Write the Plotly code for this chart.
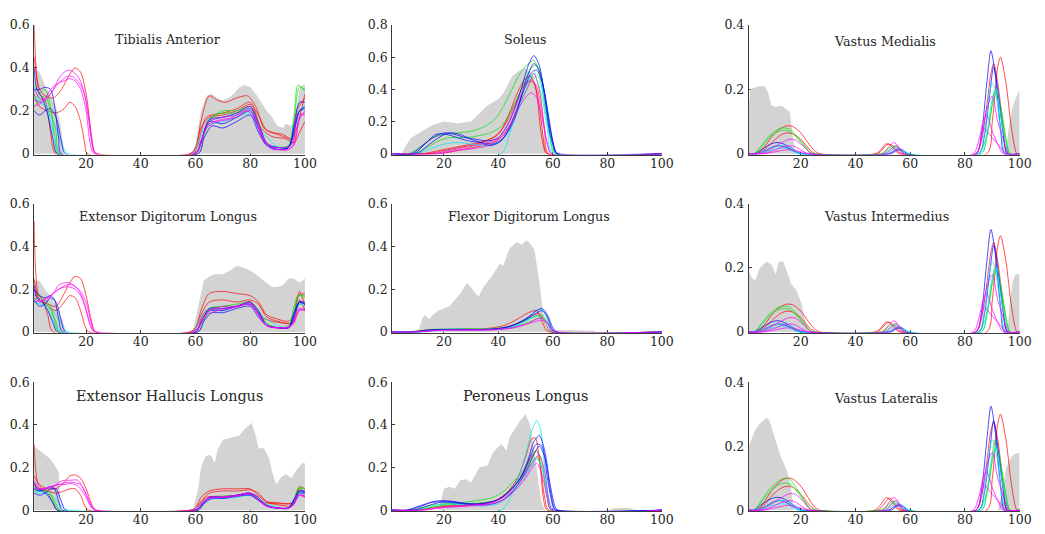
import plotly.graph_objects as go

W, H = 1045, 534

COLORS = {
    "r": "rgba(255,0,0,0.7)",
    "g": "rgba(0,230,0,0.7)",
    "b": "rgba(0,0,255,0.7)",
    "c": "rgba(0,235,235,0.75)",
    "m": "rgba(255,0,255,0.7)",
}
ENV_COLOR = "rgb(211,211,211)"

X_TICKS = [20, 40, 60, 80, 100]

# ---------------- Tibialis Anterior ----------------
TA_ENV_X = [1, 3, 5, 7, 9, 10.5, 11.5, 12, 59, 60, 62, 64, 66, 68, 70, 72, 74, 76, 78, 80, 82, 84, 86, 88, 90, 92, 93, 95, 96, 97, 98, 99, 100]
TA_ENV_Y = [0.4, 0.38, 0.32, 0.27, 0.22, 0.15, 0.06, 0, 0, 0.05, 0.2, 0.27, 0.28, 0.26, 0.25, 0.26, 0.28, 0.31, 0.32, 0.31, 0.28, 0.24, 0.2, 0.17, 0.13, 0.12, 0.14, 0.13, 0.15, 0.22, 0.3, 0.32, 0.32]
TA_LINES = [
    ("r", [1, 2, 3, 5, 7, 8, 9, 58, 60, 62, 65, 68, 71, 75, 79, 82, 85, 88, 92, 95, 97, 100],
          [0.6, 0.35, 0.28, 0.25, 0.1, 0.02, 0, 0, 0.02, 0.15, 0.27, 0.25, 0.24, 0.26, 0.27, 0.22, 0.12, 0.1, 0.09, 0.07, 0.12, 0.28]),
    ("r", [1, 3, 5, 8, 11, 14, 16, 18, 20, 22, 23, 24, 58, 60, 62, 65, 70, 75, 80, 83, 86, 90, 94, 96, 98, 100],
          [0.45, 0.3, 0.27, 0.26, 0.3, 0.37, 0.40, 0.38, 0.28, 0.08, 0.01, 0, 0, 0.03, 0.12, 0.17, 0.18, 0.2, 0.23, 0.18, 0.11, 0.09, 0.07, 0.05, 0.1, 0.15]),
    ("r", [1, 3, 6, 9, 12, 14, 16, 18, 19.5, 20.5, 59, 61, 64, 70, 75, 80, 84, 88, 93, 95.5, 97, 100],
          [0.28, 0.22, 0.2, 0.19, 0.21, 0.24, 0.22, 0.15, 0.05, 0, 0, 0.05, 0.17, 0.19, 0.21, 0.24, 0.12, 0.08, 0.07, 0.05, 0.2, 0.26]),
    ("g", [1, 3, 5, 7, 8.5, 10, 60, 62, 65, 70, 75, 80, 83, 86, 90, 94, 96, 98, 100],
          [0.25, 0.28, 0.3, 0.22, 0.08, 0, 0, 0.06, 0.16, 0.2, 0.2, 0.22, 0.15, 0.05, 0.03, 0.03, 0.15, 0.31, 0.3]),
    ("g", [1, 3, 5, 7, 9, 10.5, 61, 63, 66, 70, 75, 80, 83, 86, 90, 94, 96, 97.5, 100],
          [0.22, 0.25, 0.27, 0.2, 0.1, 0, 0, 0.08, 0.17, 0.19, 0.19, 0.21, 0.13, 0.05, 0.03, 0.04, 0.18, 0.32, 0.29]),
    ("c", [1, 3, 6, 9, 11, 12.5, 13.5, 59, 61, 64, 70, 75, 80, 83, 86, 90, 94, 96, 98, 100],
          [0.32, 0.25, 0.2, 0.12, 0.05, 0.01, 0, 0, 0.06, 0.13, 0.15, 0.17, 0.19, 0.12, 0.08, 0.03, 0.03, 0.1, 0.2, 0.23]),
    ("c", [1, 3, 5, 7, 9, 10.5, 60, 62, 65, 70, 75, 80, 83, 86, 90, 94, 96, 98, 100],
          [0.27, 0.24, 0.24, 0.15, 0.05, 0, 0, 0.05, 0.15, 0.17, 0.18, 0.21, 0.13, 0.05, 0.03, 0.03, 0.12, 0.2, 0.21]),
    ("b", [1, 3, 5, 7, 8.5, 10, 11, 60, 62, 65, 70, 75, 80, 83, 86, 90, 94, 96, 98, 100],
          [0.3, 0.3, 0.31, 0.3, 0.22, 0.07, 0, 0, 0.06, 0.15, 0.14, 0.17, 0.2, 0.12, 0.04, 0.02, 0.03, 0.1, 0.2, 0.22]),
    ("b", [1, 3, 5, 7, 9, 11, 12.5, 61, 63, 66, 70, 75, 80, 83, 86, 90, 94, 96, 98, 100],
          [0.2, 0.18, 0.2, 0.21, 0.17, 0.06, 0, 0, 0.07, 0.13, 0.12, 0.15, 0.18, 0.1, 0.04, 0.03, 0.03, 0.12, 0.2, 0.21]),
    ("b", [1, 2, 4, 6, 8, 9.5, 60, 62, 65, 70, 75, 80, 83, 86, 90, 94, 96, 98, 100],
          [0.4, 0.3, 0.26, 0.18, 0.06, 0, 0, 0.05, 0.16, 0.17, 0.19, 0.22, 0.14, 0.05, 0.02, 0.03, 0.13, 0.24, 0.24]),
    ("m", [1, 3, 5, 8, 10, 12, 14, 17, 19, 21, 22.5, 24, 59, 61, 64, 68, 72, 76, 80, 82, 85, 88, 91, 94, 96, 98, 100],
          [0.3, 0.26, 0.25, 0.3, 0.35, 0.38, 0.39, 0.36, 0.3, 0.15, 0.03, 0, 0, 0.02, 0.12, 0.15, 0.16, 0.19, 0.22, 0.16, 0.06, 0.02, 0.02, 0.02, 0.05, 0.17, 0.19]),
    ("m", [1, 3, 5, 7, 10, 13, 15, 18, 20, 22, 23.5, 60, 62, 65, 70, 75, 80, 83, 86, 90, 94, 96, 98, 100],
          [0.25, 0.24, 0.26, 0.3, 0.33, 0.36, 0.36, 0.32, 0.25, 0.08, 0, 0, 0.06, 0.14, 0.16, 0.17, 0.21, 0.14, 0.05, 0.02, 0.02, 0.04, 0.16, 0.2]),
    ("m", [1, 4, 7, 10, 12, 14, 16, 18, 20, 21.5, 23, 60, 62, 65, 70, 75, 79, 82, 85, 89, 93, 95.5, 97, 100],
          [0.22, 0.24, 0.28, 0.33, 0.34, 0.35, 0.34, 0.3, 0.2, 0.05, 0, 0, 0.05, 0.15, 0.17, 0.18, 0.2, 0.15, 0.06, 0.03, 0.03, 0.05, 0.18, 0.18]),
]

# ---------------- Extensor Digitorum Longus ----------------
EDL_ENV_X = [1, 3, 5, 8, 10, 11.5, 12.5, 59, 61, 63, 65, 67, 70, 73, 75, 78, 81, 84, 86, 88, 90, 92, 94, 96, 98, 100]
EDL_ENV_Y = [0.24, 0.24, 0.2, 0.15, 0.1, 0.05, 0, 0, 0.12, 0.24, 0.26, 0.27, 0.27, 0.29, 0.31, 0.3, 0.28, 0.25, 0.23, 0.21, 0.21, 0.22, 0.25, 0.25, 0.23, 0.25]
EDL_LINES = [
    ("r", [1, 1.5, 2.5, 4, 6, 8, 58, 60, 62, 65, 70, 75, 80, 83, 86, 90, 94, 96, 98, 100],
          [0.52, 0.3, 0.18, 0.15, 0.08, 0, 0, 0.02, 0.1, 0.18, 0.19, 0.18, 0.17, 0.14, 0.08, 0.06, 0.05, 0.08, 0.19, 0.12]),
    ("r", [1, 3, 6, 9, 12, 14, 16, 18, 20, 22, 23.5, 58, 60, 62, 65, 70, 75, 80, 83, 86, 90, 94, 96, 98, 100],
          [0.25, 0.15, 0.13, 0.12, 0.18, 0.23, 0.26, 0.25, 0.17, 0.05, 0, 0, 0.02, 0.08, 0.14, 0.15, 0.14, 0.15, 0.13, 0.07, 0.05, 0.04, 0.05, 0.15, 0.1]),
    ("r", [1, 3, 6, 9, 12, 14, 16, 18, 19.5, 21, 59, 61, 64, 70, 75, 80, 84, 88, 93, 95.5, 97.5, 100],
          [0.2, 0.15, 0.12, 0.1, 0.14, 0.17, 0.16, 0.1, 0.03, 0, 0, 0.04, 0.1, 0.11, 0.12, 0.14, 0.07, 0.05, 0.04, 0.04, 0.17, 0.18]),
    ("g", [1, 3, 5, 7, 8.5, 10, 60, 62, 65, 70, 75, 80, 83, 86, 90, 94, 96, 98, 100],
          [0.17, 0.17, 0.15, 0.12, 0.05, 0, 0, 0.05, 0.11, 0.12, 0.13, 0.14, 0.1, 0.04, 0.02, 0.02, 0.1, 0.17, 0.16]),
    ("g", [1, 3, 5, 7, 9, 10.5, 61, 63, 66, 70, 75, 80, 83, 86, 90, 94, 96, 97.5, 100],
          [0.15, 0.16, 0.14, 0.1, 0.05, 0, 0, 0.05, 0.11, 0.12, 0.12, 0.13, 0.09, 0.04, 0.02, 0.03, 0.12, 0.17, 0.17]),
    ("c", [1, 3, 6, 9, 11, 12.5, 13.5, 59, 61, 64, 70, 75, 80, 83, 86, 90, 94, 96, 98, 100],
          [0.16, 0.14, 0.12, 0.08, 0.04, 0.01, 0, 0, 0.05, 0.1, 0.1, 0.12, 0.13, 0.09, 0.06, 0.03, 0.02, 0.07, 0.13, 0.14]),
    ("c", [1, 3, 5, 7, 9, 10.5, 60, 62, 65, 70, 75, 80, 83, 86, 90, 94, 96, 98, 100],
          [0.14, 0.13, 0.12, 0.08, 0.03, 0, 0, 0.04, 0.1, 0.11, 0.12, 0.13, 0.09, 0.03, 0.02, 0.02, 0.08, 0.13, 0.12]),
    ("b", [1, 3, 5, 7, 8.5, 10, 11.5, 60, 62, 65, 70, 75, 80, 83, 86, 90, 94, 96, 98, 100],
          [0.2, 0.17, 0.16, 0.17, 0.15, 0.06, 0, 0, 0.05, 0.1, 0.1, 0.12, 0.13, 0.09, 0.03, 0.02, 0.02, 0.07, 0.14, 0.13]),
    ("b", [1, 3, 5, 7, 9, 11, 12.5, 61, 63, 66, 70, 75, 80, 83, 86, 90, 94, 96, 98, 100],
          [0.15, 0.12, 0.13, 0.16, 0.14, 0.05, 0, 0, 0.05, 0.09, 0.09, 0.11, 0.12, 0.07, 0.03, 0.02, 0.02, 0.08, 0.14, 0.13]),
    ("b", [1, 2, 4, 6, 8, 9.5, 60, 62, 65, 70, 75, 80, 83, 86, 90, 94, 96, 98, 100],
          [0.22, 0.16, 0.14, 0.1, 0.04, 0, 0, 0.04, 0.11, 0.11, 0.12, 0.14, 0.1, 0.03, 0.02, 0.02, 0.09, 0.14, 0.14]),
    ("m", [1, 3, 5, 8, 10, 12, 14, 17, 19, 21, 22.5, 24, 59, 61, 64, 68, 72, 76, 80, 82, 85, 88, 91, 94, 96, 98, 100],
          [0.18, 0.15, 0.14, 0.18, 0.22, 0.23, 0.23, 0.2, 0.15, 0.06, 0.01, 0, 0, 0.02, 0.08, 0.1, 0.11, 0.12, 0.14, 0.1, 0.04, 0.02, 0.02, 0.02, 0.05, 0.1, 0.11]),
    ("m", [1, 3, 5, 7, 10, 13, 15, 18, 20, 22, 23.5, 60, 62, 65, 70, 75, 80, 83, 86, 90, 94, 96, 98, 100],
          [0.16, 0.14, 0.15, 0.17, 0.2, 0.22, 0.22, 0.19, 0.14, 0.04, 0, 0, 0.05, 0.1, 0.11, 0.12, 0.13, 0.09, 0.03, 0.02, 0.02, 0.04, 0.11, 0.1]),
    ("m", [1, 4, 7, 10, 12, 14, 16, 18, 20, 21.5, 23, 60, 62, 65, 70, 75, 79, 82, 85, 89, 93, 95.5, 97, 100],
          [0.14, 0.15, 0.17, 0.2, 0.21, 0.21, 0.2, 0.17, 0.1, 0.03, 0, 0, 0.04, 0.1, 0.12, 0.12, 0.13, 0.1, 0.04, 0.02, 0.02, 0.04, 0.1, 0.1]),
]

# ---------------- Extensor Hallucis Longus ----------------
EHL_ENV_X = [1, 3, 5, 7, 9, 10, 10.5, 11, 59, 61, 62, 63.5, 65, 66, 67, 68, 70, 73, 76, 78, 80.5, 82, 83, 85, 87, 88, 89.5, 91, 93, 95, 97, 99, 100]
EHL_ENV_Y = [0.3, 0.28, 0.26, 0.24, 0.2, 0.18, 0.05, 0, 0, 0.1, 0.2, 0.25, 0.26, 0.25, 0.22, 0.28, 0.33, 0.34, 0.35, 0.38, 0.41, 0.35, 0.29, 0.29, 0.24, 0.18, 0.12, 0.15, 0.17, 0.15, 0.19, 0.22, 0.22]
EHL_LINES = [
    ("r", [1, 1.5, 2.5, 4, 6, 8, 9.5, 58, 60, 62, 65, 70, 75, 80, 83, 86, 90, 94, 96, 98, 100],
          [0.31, 0.2, 0.12, 0.1, 0.08, 0.03, 0, 0, 0.01, 0.06, 0.09, 0.1, 0.1, 0.1, 0.07, 0.04, 0.035, 0.03, 0.04, 0.11, 0.1]),
    ("r", [1, 3, 6, 9, 12, 14, 16, 18, 20, 22, 23.5, 58, 60, 62, 65, 70, 75, 80, 83, 86, 90, 94, 96, 98, 100],
          [0.16, 0.12, 0.1, 0.1, 0.13, 0.16, 0.165, 0.15, 0.1, 0.03, 0, 0, 0.01, 0.04, 0.08, 0.09, 0.09, 0.095, 0.08, 0.04, 0.03, 0.03, 0.03, 0.1, 0.08]),
    ("r", [1, 3, 6, 9, 12, 14, 16, 18, 19.5, 21, 59, 61, 64, 70, 75, 80, 84, 88, 93, 95.5, 97.5, 100],
          [0.12, 0.1, 0.09, 0.08, 0.09, 0.1, 0.1, 0.07, 0.02, 0, 0, 0.02, 0.06, 0.065, 0.07, 0.08, 0.04, 0.03, 0.02, 0.02, 0.09, 0.06]),
    ("g", [1, 3, 5, 7, 8.5, 10, 60, 62, 65, 70, 75, 80, 83, 86, 90, 94, 96, 98, 100],
          [0.11, 0.1, 0.1, 0.08, 0.03, 0, 0, 0.02, 0.06, 0.065, 0.07, 0.08, 0.06, 0.025, 0.01, 0.01, 0.05, 0.11, 0.1]),
    ("g", [1, 3, 5, 7, 9, 10.5, 61, 63, 66, 70, 75, 80, 83, 86, 90, 94, 96, 97.5, 100],
          [0.09, 0.09, 0.09, 0.07, 0.03, 0, 0, 0.03, 0.06, 0.065, 0.065, 0.075, 0.055, 0.025, 0.01, 0.01, 0.05, 0.1, 0.1]),
    ("c", [1, 3, 6, 9, 11, 12.5, 13.5, 59, 61, 64, 70, 75, 80, 83, 86, 90, 94, 96, 98, 100],
          [0.1, 0.09, 0.08, 0.05, 0.02, 0.005, 0, 0, 0.02, 0.05, 0.055, 0.06, 0.07, 0.05, 0.03, 0.015, 0.01, 0.04, 0.08, 0.08]),
    ("c", [1, 3, 5, 7, 9, 10.5, 60, 62, 65, 70, 75, 80, 83, 86, 90, 94, 96, 98, 100],
          [0.09, 0.08, 0.08, 0.05, 0.02, 0, 0, 0.02, 0.055, 0.06, 0.065, 0.075, 0.05, 0.02, 0.01, 0.01, 0.04, 0.08, 0.075]),
    ("b", [1, 3, 5, 7, 8.5, 10, 11.5, 60, 62, 65, 70, 75, 80, 83, 86, 90, 94, 96, 98, 100],
          [0.1, 0.09, 0.1, 0.11, 0.1, 0.04, 0, 0, 0.02, 0.06, 0.06, 0.07, 0.075, 0.05, 0.02, 0.01, 0.01, 0.05, 0.09, 0.085]),
    ("b", [1, 3, 5, 7, 9, 11, 12.5, 61, 63, 66, 70, 75, 80, 83, 86, 90, 94, 96, 98, 100],
          [0.08, 0.07, 0.08, 0.1, 0.1, 0.04, 0, 0, 0.03, 0.055, 0.055, 0.065, 0.07, 0.045, 0.02, 0.01, 0.01, 0.04, 0.08, 0.08]),
    ("b", [1, 2, 4, 6, 8, 9.5, 60, 62, 65, 70, 75, 80, 83, 86, 90, 94, 96, 98, 100],
          [0.13, 0.1, 0.09, 0.07, 0.03, 0, 0, 0.02, 0.06, 0.06, 0.07, 0.08, 0.06, 0.02, 0.01, 0.01, 0.05, 0.09, 0.09]),
    ("m", [1, 3, 5, 8, 10, 12, 14, 17, 19, 21, 22.5, 24, 59, 61, 64, 68, 72, 76, 80, 82, 85, 88, 91, 94, 96, 98, 100],
          [0.14, 0.1, 0.1, 0.11, 0.13, 0.14, 0.14, 0.14, 0.1, 0.04, 0.01, 0, 0, 0.01, 0.05, 0.06, 0.065, 0.07, 0.08, 0.06, 0.03, 0.015, 0.01, 0.01, 0.03, 0.07, 0.07]),
    ("m", [1, 3, 5, 7, 10, 13, 15, 18, 20, 22, 23.5, 60, 62, 65, 70, 75, 80, 83, 86, 90, 94, 96, 98, 100],
          [0.12, 0.1, 0.1, 0.11, 0.12, 0.13, 0.13, 0.12, 0.08, 0.02, 0, 0, 0.03, 0.06, 0.06, 0.07, 0.08, 0.06, 0.02, 0.01, 0.01, 0.03, 0.07, 0.065]),
    ("m", [1, 4, 7, 10, 12, 14, 16, 18, 20, 21.5, 23, 60, 62, 65, 70, 75, 79, 82, 85, 89, 93, 95.5, 97, 100],
          [0.1, 0.1, 0.11, 0.12, 0.12, 0.125, 0.12, 0.1, 0.06, 0.02, 0, 0, 0.02, 0.06, 0.06, 0.065, 0.075, 0.06, 0.025, 0.01, 0.01, 0.02, 0.07, 0.06]),
]

# ---------------- Soleus ----------------
SOL_ENV_X = [1, 4.5, 6, 8, 10, 13, 16, 20, 25, 30, 32.5, 36, 40, 42, 45, 48, 50, 52, 54, 55.5, 57, 58, 100]
SOL_ENV_Y = [0, 0, 0.05, 0.1, 0.12, 0.15, 0.18, 0.2, 0.19, 0.2, 0.24, 0.3, 0.34, 0.38, 0.48, 0.52, 0.53, 0.5, 0.42, 0.25, 0.05, 0, 0]
SOL_LINES = [
    ("r", [1, 12, 18, 24, 30, 35, 40, 44, 47, 50, 52, 54, 55.5, 57, 58, 100],
          [0, 0, 0.02, 0.04, 0.06, 0.08, 0.12, 0.25, 0.38, 0.47, 0.48, 0.38, 0.15, 0.02, 0, 0]),
    ("r", [1, 14, 20, 26, 32, 38, 42, 46, 49, 51, 53, 55, 56.5, 58, 100],
          [0, 0, 0.02, 0.04, 0.06, 0.1, 0.17, 0.3, 0.42, 0.45, 0.44, 0.3, 0.1, 0, 0]),
    ("r", [1, 16, 22, 28, 34, 40, 44, 48, 51, 53, 55, 57, 58.5, 100],
          [0, 0, 0.01, 0.03, 0.05, 0.09, 0.17, 0.32, 0.42, 0.5, 0.4, 0.15, 0, 0]),
    ("g", [1, 7, 12, 16, 20, 25, 30, 35, 39, 42, 45, 48, 51, 53, 55, 57, 59, 61, 100],
          [0, 0, 0.05, 0.1, 0.12, 0.13, 0.14, 0.17, 0.22, 0.3, 0.4, 0.5, 0.56, 0.58, 0.5, 0.3, 0.1, 0, 0]),
    ("g", [1, 9, 14, 18, 22, 27, 32, 37, 41, 45, 49, 52, 54, 56, 58, 60, 61, 100],
          [0, 0, 0.04, 0.08, 0.1, 0.1, 0.11, 0.13, 0.17, 0.28, 0.42, 0.53, 0.55, 0.45, 0.25, 0.06, 0, 0]),
    ("c", [1, 41, 44, 47, 50, 52, 54, 56, 58, 60, 100],
          [0, 0, 0.12, 0.28, 0.42, 0.48, 0.46, 0.35, 0.15, 0, 0]),
    ("c", [1, 10, 15, 20, 25, 30, 35, 40, 44, 48, 51, 53, 55, 57, 59, 60.5, 100],
          [0, 0, 0.03, 0.06, 0.07, 0.06, 0.05, 0.07, 0.15, 0.3, 0.43, 0.5, 0.47, 0.32, 0.1, 0, 0]),
    ("b", [1, 8, 12, 16, 20, 24, 28, 32, 36, 40, 44, 48, 51, 53, 55, 57, 59, 61, 62, 100],
          [0, 0, 0.05, 0.1, 0.13, 0.12, 0.1, 0.09, 0.08, 0.1, 0.2, 0.38, 0.55, 0.61, 0.55, 0.35, 0.12, 0.01, 0, 0]),
    ("b", [1, 9, 13, 17, 21, 25, 29, 33, 37, 41, 45, 49, 52, 54, 56, 58, 60, 61.5, 100],
          [0, 0, 0.06, 0.12, 0.12, 0.1, 0.08, 0.07, 0.05, 0.08, 0.2, 0.38, 0.5, 0.52, 0.45, 0.28, 0.08, 0, 0]),
    ("b", [1, 10, 14, 18, 22, 26, 30, 34, 38, 42, 46, 50, 53, 55, 57, 59, 61, 62, 100],
          [0, 0, 0.05, 0.1, 0.13, 0.12, 0.09, 0.07, 0.06, 0.1, 0.22, 0.45, 0.56, 0.52, 0.38, 0.15, 0.02, 0, 0]),
    ("m", [1, 18, 24, 30, 36, 41, 45, 48, 50, 52, 54, 56, 58, 59.5, 100],
          [0, 0, 0.02, 0.03, 0.05, 0.1, 0.2, 0.3, 0.35, 0.38, 0.35, 0.22, 0.06, 0, 0]),
    ("m", [1, 16, 22, 28, 34, 40, 44, 47, 50, 52, 54, 56, 58, 59.5, 100],
          [0, 0, 0.02, 0.04, 0.06, 0.1, 0.2, 0.32, 0.42, 0.46, 0.42, 0.25, 0.06, 0, 0]),
]

# ---------------- Flexor Digitorum Longus ----------------
FDL_ENV_X = [1, 10.5, 12, 13, 14.5, 16, 18, 20, 22, 24, 26, 28.5, 30.5, 32.7, 34.5, 37, 39.5, 40.6, 41.8, 44, 46.7, 48.5, 50.3, 52, 53.3, 55, 56.3, 57.6, 59, 75, 76, 100]
FDL_ENV_Y = [0, 0, 0.06, 0.08, 0.06, 0.08, 0.1, 0.11, 0.12, 0.15, 0.18, 0.23, 0.2, 0.165, 0.21, 0.25, 0.3, 0.32, 0.31, 0.39, 0.42, 0.41, 0.43, 0.41, 0.38, 0.24, 0.1, 0.02, 0.01, 0.005, 0, 0]
FDL_LINES = [
    ("r", [1, 6, 15, 25, 35, 42, 47, 51, 54, 56, 57.5, 58.5, 100],
          [0, 0, 0.01, 0.012, 0.015, 0.03, 0.06, 0.09, 0.1, 0.05, 0.01, 0, 0]),
    ("r", [1, 8, 18, 28, 38, 45, 50, 53, 55, 57, 58.5, 59.5, 100],
          [0, 0, 0.01, 0.01, 0.012, 0.03, 0.06, 0.08, 0.085, 0.05, 0.01, 0, 0]),
    ("g", [1, 8, 16, 26, 36, 44, 49, 53, 56, 58, 59.5, 60.5, 100],
          [0, 0, 0.012, 0.015, 0.015, 0.025, 0.05, 0.07, 0.08, 0.05, 0.01, 0, 0]),
    ("g", [1, 10, 18, 28, 38, 45, 50, 54, 56, 58, 59.5, 60.5, 100],
          [0, 0, 0.01, 0.012, 0.012, 0.02, 0.04, 0.06, 0.07, 0.04, 0.01, 0, 0]),
    ("c", [1, 12, 20, 30, 40, 46, 50, 54, 56, 58, 59.5, 60.5, 100],
          [0, 0, 0.012, 0.012, 0.015, 0.03, 0.06, 0.1, 0.105, 0.06, 0.01, 0, 0]),
    ("c", [1, 8, 20, 30, 40, 46, 50, 53, 55, 57, 59, 60, 100],
          [0, 0, 0.008, 0.01, 0.012, 0.025, 0.05, 0.07, 0.075, 0.05, 0.01, 0, 0]),
    ("b", [1, 8, 15, 25, 35, 42, 47, 51, 54, 56, 58, 60, 61.5, 100],
          [0, 0, 0.01, 0.012, 0.012, 0.02, 0.04, 0.07, 0.1, 0.11, 0.08, 0.02, 0, 0]),
    ("b", [1, 10, 18, 28, 38, 44, 49, 53, 56, 58, 59.5, 61, 100],
          [0, 0, 0.01, 0.01, 0.012, 0.025, 0.05, 0.08, 0.1, 0.07, 0.02, 0, 0]),
    ("m", [1, 10, 18, 28, 38, 45, 50, 54, 56, 58, 59.5, 60.5, 100],
          [0, 0, 0.008, 0.01, 0.012, 0.02, 0.035, 0.05, 0.055, 0.04, 0.01, 0, 0]),
    ("m", [1, 10, 20, 30, 40, 46, 51, 54, 56, 58, 59.5, 61, 100],
          [0, 0, 0.008, 0.008, 0.01, 0.02, 0.04, 0.06, 0.065, 0.045, 0.01, 0, 0]),
]

# ---------------- Peroneus Longus ----------------
PL_ENV_X = [1, 18, 20, 22, 24, 26, 28, 30, 33, 36, 38, 41, 43, 44, 46, 48, 50, 51, 52, 53, 54, 55, 56, 57, 80, 83, 88, 91, 100]
PL_ENV_Y = [0, 0, 0.1, 0.11, 0.1, 0.14, 0.145, 0.13, 0.2, 0.21, 0.27, 0.31, 0.28, 0.34, 0.38, 0.42, 0.45, 0.42, 0.38, 0.3, 0.2, 0.1, 0.03, 0, 0, 0.01, 0.01, 0, 0]
PL_LINES = [
    ("r", [1, 8, 14, 20, 26, 32, 38, 43, 47, 50, 52, 53.5, 55, 56.5, 58, 100],
          [0, 0, 0.01, 0.02, 0.02, 0.03, 0.04, 0.08, 0.15, 0.25, 0.33, 0.34, 0.25, 0.06, 0, 0]),
    ("r", [1, 10, 16, 22, 28, 34, 40, 45, 49, 52, 54, 55.5, 57, 58.5, 100],
          [0, 0, 0.01, 0.02, 0.02, 0.03, 0.05, 0.1, 0.17, 0.25, 0.28, 0.2, 0.06, 0, 0]),
    ("g", [1, 8, 14, 20, 26, 32, 38, 42, 46, 49, 52, 54, 56, 58, 59.5, 100],
          [0, 0, 0.02, 0.03, 0.035, 0.045, 0.06, 0.09, 0.14, 0.18, 0.24, 0.28, 0.22, 0.06, 0, 0]),
    ("g", [1, 10, 16, 22, 28, 34, 40, 45, 49, 52, 54, 56, 58, 59.5, 100],
          [0, 0, 0.015, 0.025, 0.03, 0.035, 0.05, 0.1, 0.16, 0.22, 0.25, 0.2, 0.06, 0, 0]),
    ("c", [1, 10, 16, 22, 28, 34, 40, 45, 49, 52, 54, 56, 58, 59.5, 100],
          [0, 0, 0.02, 0.03, 0.025, 0.02, 0.03, 0.08, 0.14, 0.2, 0.24, 0.2, 0.06, 0, 0]),
    ("c", [1, 41, 44, 47, 50, 52, 54, 55.5, 57, 59, 60.5, 100],
          [0, 0, 0.05, 0.14, 0.26, 0.36, 0.42, 0.38, 0.2, 0.03, 0, 0]),
    ("b", [1, 7, 12, 16, 20, 24, 28, 32, 36, 40, 44, 48, 51, 53, 55, 57, 59, 61, 62, 100],
          [0, 0, 0.02, 0.04, 0.045, 0.04, 0.03, 0.03, 0.035, 0.05, 0.09, 0.15, 0.24, 0.32, 0.35, 0.28, 0.12, 0.01, 0, 0]),
    ("b", [1, 9, 14, 18, 22, 26, 30, 34, 38, 42, 46, 50, 53, 55, 57, 59, 60.5, 61.5, 100],
          [0, 0, 0.02, 0.035, 0.04, 0.035, 0.03, 0.025, 0.03, 0.05, 0.1, 0.18, 0.26, 0.3, 0.25, 0.1, 0.01, 0, 0]),
    ("b", [1, 6, 11, 15, 19, 23, 27, 31, 35, 40, 45, 49, 52, 54, 56, 58, 60, 61, 100],
          [0, 0, 0.02, 0.035, 0.04, 0.035, 0.03, 0.025, 0.03, 0.05, 0.1, 0.17, 0.26, 0.31, 0.3, 0.15, 0.02, 0, 0]),
    ("m", [1, 12, 18, 24, 30, 36, 42, 46, 50, 52, 54, 56, 58, 59.5, 100],
          [0, 0, 0.01, 0.015, 0.02, 0.025, 0.05, 0.09, 0.15, 0.19, 0.22, 0.17, 0.05, 0, 0]),
    ("m", [1, 12, 18, 24, 30, 36, 42, 46, 50, 53, 55, 57, 58.5, 60, 100],
          [0, 0, 0.01, 0.02, 0.025, 0.03, 0.06, 0.1, 0.17, 0.23, 0.26, 0.18, 0.05, 0, 0]),
]

# ---------------- Vastus Medialis / Intermedius ----------------
VM_ENV_X = [1, 1.5, 3, 4.5, 7, 8, 9.3, 11, 13, 14.5, 16, 17, 18, 95, 96, 97, 98, 99, 100]
VM_ENV_Y = [0.15, 0.2, 0.205, 0.21, 0.21, 0.19, 0.15, 0.145, 0.15, 0.14, 0.13, 0.06, 0, 0, 0.08, 0.13, 0.16, 0.18, 0.2]
VI_ENV_X = [1, 2, 3.3, 5, 7.5, 9.3, 10.8, 12, 13.6, 15.4, 16.5, 18.4, 20.2, 21.5, 23, 95.5, 96.5, 97.5, 98.5, 100]
VI_ENV_Y = [0.19, 0.17, 0.16, 0.2, 0.22, 0.21, 0.18, 0.22, 0.22, 0.18, 0.15, 0.13, 0.09, 0.04, 0, 0, 0.1, 0.16, 0.18, 0.18]
VM_LINES = [
    ("r", [1, 4, 7, 10, 13, 15, 17, 20, 23, 25, 27, 47, 49, 51, 53, 55, 57, 88, 90, 92, 93, 95, 97, 99, 100],
          [0, 0, 0.025, 0.06, 0.08, 0.087, 0.085, 0.065, 0.03, 0.01, 0, 0, 0.01, 0.03, 0.028, 0.01, 0, 0, 0.1, 0.27, 0.3, 0.22, 0.08, 0, 0]),
    ("r", [1, 4, 7, 10, 13, 15, 17, 20, 23, 25.5, 48, 50, 52, 54, 56, 84, 86, 88, 89.5, 90.5, 92, 94, 95.5, 100],
          [0, 0, 0.015, 0.04, 0.06, 0.065, 0.062, 0.045, 0.015, 0, 0, 0.015, 0.03, 0.015, 0, 0, 0.04, 0.15, 0.25, 0.28, 0.22, 0.08, 0, 0]),
    ("g", [1, 3, 6, 9, 12, 14, 16, 18, 21, 23.5, 25, 49, 51, 53, 54.5, 56, 58, 85, 87, 89, 91, 93, 95, 96.5, 100],
          [0, 0, 0.03, 0.06, 0.078, 0.08, 0.077, 0.06, 0.03, 0.005, 0, 0, 0.01, 0.022, 0.025, 0.015, 0, 0, 0.03, 0.1, 0.2, 0.15, 0.05, 0, 0]),
    ("g", [1, 3, 6, 9, 12, 14, 16, 18, 21, 23, 24.5, 50, 52, 54, 56, 58, 86, 88, 90, 91.5, 93, 95, 96.5, 100],
          [0, 0, 0.025, 0.055, 0.07, 0.073, 0.07, 0.055, 0.025, 0.005, 0, 0, 0.01, 0.02, 0.012, 0, 0, 0.05, 0.15, 0.19, 0.14, 0.04, 0, 0]),
    ("b", [1, 3, 6, 9, 11, 13, 15, 17, 19, 21, 52, 54, 56, 57.5, 59, 84, 86, 88, 89.5, 91, 93, 94.5, 100],
          [0, 0, 0.015, 0.03, 0.035, 0.033, 0.025, 0.015, 0.005, 0, 0, 0.008, 0.015, 0.01, 0, 0, 0.06, 0.22, 0.32, 0.25, 0.08, 0, 0]),
    ("b", [1, 4, 7, 10, 12, 14, 16, 18, 20, 53, 55, 57, 59, 85, 87, 89, 90.5, 92, 94, 95.5, 100],
          [0, 0, 0.01, 0.022, 0.025, 0.022, 0.015, 0.006, 0, 0, 0.01, 0.012, 0, 0, 0.05, 0.18, 0.27, 0.2, 0.06, 0, 0]),
    ("c", [1, 4, 7, 10, 12, 14, 16, 18, 20, 51, 53, 55, 57, 59, 85, 87, 89, 90, 91, 93, 95, 100],
          [0, 0, 0.01, 0.02, 0.025, 0.025, 0.02, 0.01, 0, 0, 0.01, 0.02, 0.01, 0, 0, 0.06, 0.19, 0.22, 0.2, 0.08, 0, 0]),
    ("c", [1, 5, 8, 11, 13, 15, 17, 19, 52, 54, 56, 58, 60, 86, 88, 90, 91.5, 93, 95, 96, 100],
          [0, 0, 0.008, 0.015, 0.018, 0.015, 0.008, 0, 0, 0.008, 0.015, 0.008, 0, 0, 0.06, 0.17, 0.2, 0.12, 0.03, 0, 0]),
    ("m", [1, 5, 9, 13, 16, 18, 20, 22, 24, 50, 52, 54, 56, 58, 83, 85, 87, 88, 90, 92, 94, 100],
          [0, 0, 0.015, 0.035, 0.045, 0.043, 0.03, 0.015, 0, 0, 0.02, 0.035, 0.02, 0, 0, 0.04, 0.11, 0.12, 0.07, 0.03, 0, 0]),
    ("m", [1, 6, 10, 13, 16, 18, 20, 23, 51, 53, 55, 57, 84, 86, 87, 89, 91, 93, 95, 100],
          [0, 0, 0.01, 0.02, 0.025, 0.022, 0.012, 0, 0, 0.015, 0.025, 0, 0, 0.05, 0.08, 0.06, 0.04, 0.02, 0, 0]),
    ("m", [1, 6, 10, 14, 17, 20, 23, 52, 54, 56, 58, 84, 86, 88, 90, 92, 95, 96, 100],
          [0, 0, 0.005, 0.012, 0.012, 0.006, 0, 0, 0.01, 0.015, 0, 0, 0.05, 0.14, 0.18, 0.1, 0.02, 0, 0]),
]

# ---------------- Vastus Lateralis ----------------
VL_ENV_X = [1, 3.3, 5, 7.5, 8.5, 10, 11.7, 13, 14.2, 15.4, 16.4, 17, 17.5, 92, 93.5, 95, 96.5, 98, 100]
VL_ENV_Y = [0.2, 0.25, 0.27, 0.29, 0.28, 0.24, 0.2, 0.16, 0.14, 0.11, 0.07, 0.03, 0, 0, 0.05, 0.13, 0.16, 0.175, 0.18]
VL_LINES = [
    ("r", [1, 4, 7, 10, 13, 15, 17, 20, 23, 25, 27, 47, 49, 51, 53, 55, 57, 88, 90, 92, 93, 95, 97, 99, 100],
          [0, 0, 0.03, 0.07, 0.093, 0.1, 0.098, 0.075, 0.035, 0.01, 0, 0, 0.015, 0.038, 0.035, 0.012, 0, 0, 0.1, 0.27, 0.3, 0.22, 0.08, 0, 0]),
    ("r", [1, 4, 7, 10, 13, 15, 17, 20, 23, 25.5, 48, 50, 52, 54, 56, 84, 86, 88, 89.5, 90.5, 92, 94, 95.5, 100],
          [0, 0, 0.02, 0.05, 0.07, 0.075, 0.072, 0.05, 0.018, 0, 0, 0.015, 0.035, 0.018, 0, 0, 0.04, 0.15, 0.25, 0.275, 0.22, 0.08, 0, 0]),
    ("g", [1, 3, 6, 9, 12, 14, 16, 18, 21, 23.5, 25, 49, 51, 53, 54.5, 56, 58, 85, 87, 89, 91, 93, 95, 96.5, 100],
          [0, 0, 0.035, 0.07, 0.092, 0.1, 0.097, 0.075, 0.035, 0.005, 0, 0, 0.01, 0.025, 0.028, 0.015, 0, 0, 0.03, 0.1, 0.22, 0.15, 0.05, 0, 0]),
    ("g", [1, 3, 6, 9, 12, 14, 16, 18, 21, 23, 24.5, 50, 52, 54, 56, 58, 86, 88, 90, 91.5, 93, 95, 96.5, 100],
          [0, 0, 0.03, 0.06, 0.08, 0.085, 0.082, 0.065, 0.03, 0.005, 0, 0, 0.012, 0.022, 0.012, 0, 0, 0.05, 0.15, 0.2, 0.14, 0.04, 0, 0]),
    ("b", [1, 3, 6, 9, 11, 13, 15, 17, 19, 21, 52, 54, 56, 57.5, 59, 84, 86, 88, 89.5, 91, 93, 94.5, 100],
          [0, 0, 0.02, 0.035, 0.04, 0.038, 0.03, 0.018, 0.006, 0, 0, 0.01, 0.018, 0.012, 0, 0, 0.06, 0.22, 0.325, 0.25, 0.08, 0, 0]),
    ("b", [1, 4, 7, 10, 12, 14, 16, 18, 20, 53, 55, 57, 59, 85, 87, 89, 90.5, 92, 94, 95.5, 100],
          [0, 0, 0.012, 0.026, 0.03, 0.027, 0.018, 0.007, 0, 0, 0.012, 0.014, 0, 0, 0.05, 0.18, 0.28, 0.2, 0.06, 0, 0]),
    ("c", [1, 4, 7, 10, 12, 14, 16, 18, 20, 51, 53, 55, 57, 59, 85, 87, 89, 90, 91, 93, 95, 100],
          [0, 0, 0.012, 0.024, 0.03, 0.03, 0.024, 0.012, 0, 0, 0.012, 0.022, 0.012, 0, 0, 0.06, 0.19, 0.22, 0.2, 0.08, 0, 0]),
    ("c", [1, 5, 8, 11, 13, 15, 17, 19, 52, 54, 56, 58, 60, 86, 88, 90, 91.5, 93, 95, 96, 100],
          [0, 0, 0.01, 0.018, 0.02, 0.018, 0.01, 0, 0, 0.01, 0.018, 0.01, 0, 0, 0.06, 0.17, 0.2, 0.12, 0.03, 0, 0]),
    ("m", [1, 5, 9, 13, 16, 18, 20, 22, 24, 50, 52, 54, 56, 58, 83, 85, 87, 88, 90, 92, 94, 100],
          [0, 0, 0.018, 0.04, 0.052, 0.05, 0.035, 0.017, 0, 0, 0.022, 0.04, 0.022, 0, 0, 0.04, 0.11, 0.12, 0.07, 0.03, 0, 0]),
    ("m", [1, 6, 10, 13, 16, 18, 20, 23, 51, 53, 55, 57, 84, 86, 87, 89, 91, 93, 95, 100],
          [0, 0, 0.012, 0.024, 0.03, 0.026, 0.014, 0, 0, 0.018, 0.03, 0, 0, 0.05, 0.08, 0.06, 0.04, 0.02, 0, 0]),
    ("m", [1, 6, 10, 14, 17, 20, 23, 52, 54, 56, 58, 84, 86, 88, 90, 92, 95, 96, 100],
          [0, 0, 0.006, 0.014, 0.014, 0.007, 0, 0, 0.012, 0.017, 0, 0, 0.05, 0.14, 0.18, 0.1, 0.02, 0, 0]),
]

# panel: (title, title font size, env x, env y, lines, y max, y ticks, row, col, title px x, title px y)
PANELS = [
    ("Tibialis Anterior", 12.7, TA_ENV_X, TA_ENV_Y, TA_LINES, 0.6, [0, 0.2, 0.4, 0.6], 0, 0, 170, 32),
    ("Soleus", 12.7, SOL_ENV_X, SOL_ENV_Y, SOL_LINES, 0.8, [0, 0.2, 0.4, 0.6, 0.8], 0, 1, 532, 32),
    ("Vastus Medialis", 12.7, VM_ENV_X, VM_ENV_Y, VM_LINES, 0.4, [0, 0.2, 0.4], 0, 2, 895, 34),
    ("Extensor Digitorum Longus", 12.7, EDL_ENV_X, EDL_ENV_Y, EDL_LINES, 0.6, [0, 0.2, 0.4, 0.6], 1, 0, 170, 215),
    ("Flexor Digitorum Longus", 12.7, FDL_ENV_X, FDL_ENV_Y, FDL_LINES, 0.6, [0, 0.2, 0.4, 0.6], 1, 1, 535, 215),
    ("Vastus Intermedius", 12.7, VI_ENV_X, VI_ENV_Y, VM_LINES, 0.4, [0, 0.2, 0.4], 1, 2, 897, 215),
    ("Extensor Hallucis Longus", 14.4, EHL_ENV_X, EHL_ENV_Y, EHL_LINES, 0.6, [0, 0.2, 0.4, 0.6], 2, 0, 171, 399),
    ("Peroneus Longus", 14.4, PL_ENV_X, PL_ENV_Y, PL_LINES, 0.6, [0, 0.2, 0.4, 0.6], 2, 1, 532, 399),
    ("Vastus Lateralis", 12.7, VL_ENV_X, VL_ENV_Y, VL_LINES, 0.4, [0, 0.2, 0.4], 2, 2, 896, 402),
]

COL_PX = [(34.5, 308.5), (396.7, 669.5), (757.5, 1031.5)]
ROW_PX = [(17.5, 150), (201.5, 333.3), (385, 516.7)]

FONT = "DejaVu Serif"
AXIS_COLOR = "#3a3a3a"
TEXT_COLOR = "#262626"
TICK_SIZE = 12.5
Y_PAD = 0.006  # tiny room below zero so lines lying on the baseline stay visible


def px_x(p):
    return p / W


def px_y(p):
    return 1 - p / H


fig = go.Figure()
layout = dict(
    width=W, height=H, autosize=False,
    margin=dict(l=0, r=0, t=0, b=0),
    paper_bgcolor="white", plot_bgcolor="white",
    showlegend=False,
    font=dict(family=FONT, size=TICK_SIZE, color=TEXT_COLOR),
)
annotations = []

for i, (title, tsize, ex, ey, lines, ymax, yticks, r, c, tx, ty) in enumerate(PANELS):
    n = i + 1
    xa = "x" if n == 1 else f"x{n}"
    ya = "y" if n == 1 else f"y{n}"
    fig.add_trace(go.Scatter(x=ex, y=ey, mode="lines", fill="tozeroy",
                             fillcolor=ENV_COLOR, line=dict(width=0, color=ENV_COLOR),
                             xaxis=xa, yaxis=ya, hoverinfo="skip"))
    for col, lx, ly in lines:
        fig.add_trace(go.Scatter(x=lx, y=ly, mode="lines",
                                 line=dict(color=COLORS[col], width=1, shape="spline", smoothing=0.8),
                                 xaxis=xa, yaxis=ya, hoverinfo="skip"))
    x0, x1 = COL_PX[c]
    yt, yb = ROW_PX[r]
    pad_px = Y_PAD * (yb - yt)
    xkey = "xaxis" if n == 1 else f"xaxis{n}"
    ykey = "yaxis" if n == 1 else f"yaxis{n}"
    layout[xkey] = dict(
        domain=[px_x(x0), px_x(x1)], range=[1, 100], anchor=ya,
        tickvals=X_TICKS, ticks="inside", ticklen=3, tickcolor=AXIS_COLOR,
        showline=True, linecolor=AXIS_COLOR, linewidth=1,
        showgrid=False, zeroline=False, layer="below traces",
        ticklabelstandoff=-3,
        tickfont=dict(family=FONT, size=TICK_SIZE, color=TEXT_COLOR),
    )
    layout[ykey] = dict(
        domain=[px_y(yb + pad_px), px_y(yt)], range=[-Y_PAD * ymax, ymax], anchor=xa,
        tickvals=yticks, ticks="inside", ticklen=3, tickcolor=AXIS_COLOR,
        showline=True, linecolor=AXIS_COLOR, linewidth=1,
        showgrid=False, zeroline=False, layer="below traces",
        ticklabelstandoff=1,
        tickfont=dict(family=FONT, size=TICK_SIZE, color=TEXT_COLOR),
    )
    annotations.append(dict(text=title, x=px_x(tx), y=px_y(ty), xref="paper", yref="paper",
                            xanchor="center", yanchor="middle", showarrow=False,
                            font=dict(family=FONT, size=tsize, color=TEXT_COLOR)))

layout["annotations"] = annotations
fig.update_layout(**layout)

POST = (
    "document.body.style.margin='0';"
    "document.body.style.overflow='hidden';"
    "var gd=document.getElementById('{plot_id}');"
    "gd.style.width='%dpx';gd.style.height='%dpx';"
    "Plotly.relayout(gd,{width:%d,height:%d,autosize:false});" % (W, H, W, H)
)
fig.write_html(
    "out.html",
    config={"responsive": False, "displayModeBar": False},
    post_script=POST,
)
